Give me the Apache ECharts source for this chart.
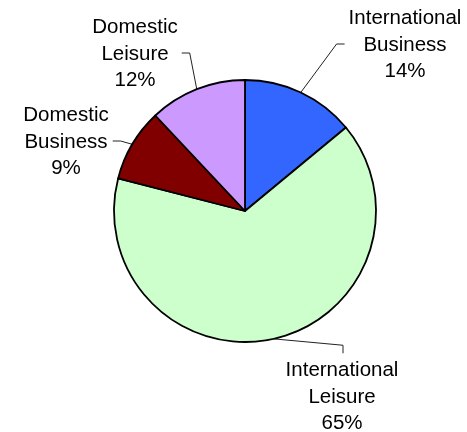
<!DOCTYPE html>
<html>
<head>
<meta charset="utf-8">
<script src="https://cdn.jsdelivr.net/npm/echarts@6/dist/echarts.min.js"></script>
<style>
  html, body { margin: 0; padding: 0; background: #fff; }
  #chart { width: 467px; height: 432px; }
</style>
</head>
<body>
<div id="chart"></div>
<script>
var names = ["International\nBusiness", "International\nLeisure", "Domestic\nBusiness", "Domestic\nLeisure"];
var shares = [14, 65, 9, 12];
var colors = ["#3366FF", "#CCFFCC", "#800000", "#CC99FF"];

// label centre (px) and which side of the label the leader line joins
var labelSpots = [
  { x: 405, y: 45, side: "left" },
  { x: 342, y: 397, side: "top" },
  { x: 66, y: 142, side: "right" },
  { x: 135, y: 54, side: "right" }
];

var chart = echarts.init(document.getElementById("chart"));

var data = names.map(function (n, i) {
  return { name: n, value: shares[i], itemStyle: { color: colors[i] } };
});

chart.setOption({
  animation: false,
  backgroundColor: "#fff",
  series: [
    {
      type: "pie",
      center: [245, 211],
      radius: 131,
      startAngle: 90,
      clockwise: true,
      data: data,
      itemStyle: {
        borderColor: "#000",
        borderWidth: 1.8
      },
      emphasis: { disabled: true },
      label: {
        show: true,
        position: "outside",
        formatter: "{b}\n{d}%",
        color: "#000",
        fontFamily: "Liberation Sans, Arial, sans-serif",
        fontSize: 20.5,
        lineHeight: 26.5,
        align: "center"
      },
      labelLine: {
        show: true,
        length: 10,
        length2: 10,
        lineStyle: { color: "#222", width: 1 }
      },
      labelLayout: function (params) {
        var spot = labelSpots[params.dataIndex];
        var w = params.labelRect.width;
        var h = params.labelRect.height;
        var a = params.labelLinePoints ? params.labelLinePoints[0] : [spot.x, spot.y];
        var gap = 4, arm = 8;
        var end, elbow;
        if (spot.side === "left") {
          end = [spot.x - w / 2 - gap, spot.y - 1];
          elbow = [end[0] - arm, end[1]];
        } else if (spot.side === "right") {
          end = [spot.x + w / 2 + gap, spot.y - 1];
          elbow = [end[0] + arm, end[1]];
        } else {
          end = [spot.x + 1, spot.y - h / 2 - gap];
          elbow = [end[0], end[1] - arm];
        }
        return {
          x: spot.x,
          y: spot.y,
          align: "center",
          verticalAlign: "middle",
          labelLinePoints: [a, elbow, end]
        };
      }
    }
  ]
});
</script>
</body>
</html>
